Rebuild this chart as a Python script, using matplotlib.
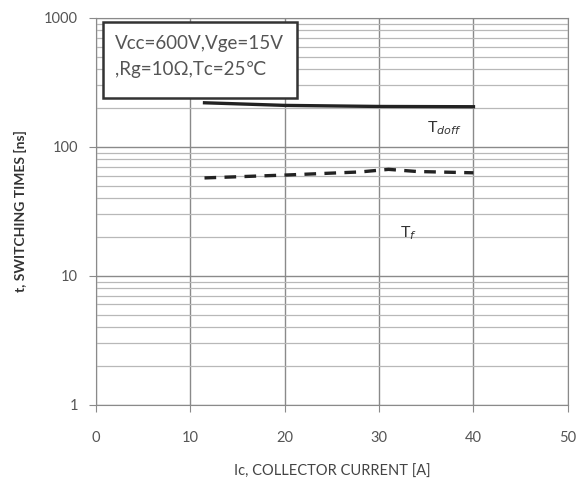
import numpy as np
import matplotlib.pyplot as plt
from matplotlib.patches import Rectangle
from matplotlib.ticker import LogLocator, NullFormatter, FixedLocator

plt.rcParams['font.family'] = ['Lato', 'DejaVu Sans']

# SWITCHING TIME DATA
ic_doff = [11.5, 20, 30, 40]
t_doff = [220, 210, 206, 205]

ic_f = [11.5, 20, 28, 31, 34, 40]
t_f = [57.5, 60.5, 64, 67, 64.5, 63]

x_ticks = [0, 10, 20, 30, 40, 50]
y_ticks = [1, 10, 100, 1000]

# FIGURE
fig = plt.figure(figsize=(5.8, 4.86), dpi=100)
ax = fig.add_axes([0.1655, 0.167, 0.8135, 0.796])

ax.set_yscale("log")
ax.set_xlim(0, 50)
ax.set_ylim(1, 1000)

ax.xaxis.set_major_locator(FixedLocator(x_ticks))
ax.yaxis.set_major_locator(FixedLocator(y_ticks))
ax.set_yticklabels([str(v) for v in y_ticks])
ax.yaxis.set_minor_locator(LogLocator(base=10, subs=np.arange(2, 10)))
ax.yaxis.set_minor_formatter(NullFormatter())

ax.grid(which="major", color="#8a8a8a", linewidth=1.0)
ax.grid(which="minor", axis="y", color="#b8b8b8", linewidth=0.9)

for s in ax.spines.values():
    s.set_color("#8a8a8a")

ax.tick_params(which="major", length=5, color="#8a8a8a",
               labelsize=10.5, labelcolor="#555555")
ax.tick_params(axis="x", pad=14)
ax.tick_params(axis="y", pad=8)
ax.tick_params(which="minor", length=0)

# CURVES
ax.plot(ic_doff, t_doff, color="#222222", linewidth=2.4)
ax.plot(ic_f, t_f, color="#222222", linewidth=2.4, linestyle=(0, (3.5, 2.5)))

ax.text(35.1, 140, r"T$_{doff}$", fontsize=11.5, color="#333333",
        ha="left", va="center")
ax.text(32.2, 21.5, r"T$_{f}$", fontsize=11.5, color="#333333",
        ha="left", va="center")

# CONDITIONS BOX
ax.add_patch(Rectangle((0.015, 0.793), 0.411, 0.197, transform=ax.transAxes,
                       facecolor="white", edgecolor="#333333",
                       linewidth=1.8, zorder=3))
ax.text(0.04, 0.935, "Vcc=600V,Vge=15V", transform=ax.transAxes,
        fontsize=13.5, color="#555555", va="center", ha="left", zorder=4)
ax.text(0.04, 0.866, ",Rg=10Ω,Tc=25℃", transform=ax.transAxes,
        fontsize=13.5, color="#555555", va="center", ha="left", zorder=4)

ax.set_xlabel("Ic, COLLECTOR CURRENT [A]", fontsize=10.5, color="#444444",
              labelpad=14)
ax.set_ylabel("t, SWITCHING TIMES [ns]", fontsize=10, color="#333333",
              fontweight="bold", labelpad=12)

fig.savefig("out.png", dpi=100, facecolor="white")
